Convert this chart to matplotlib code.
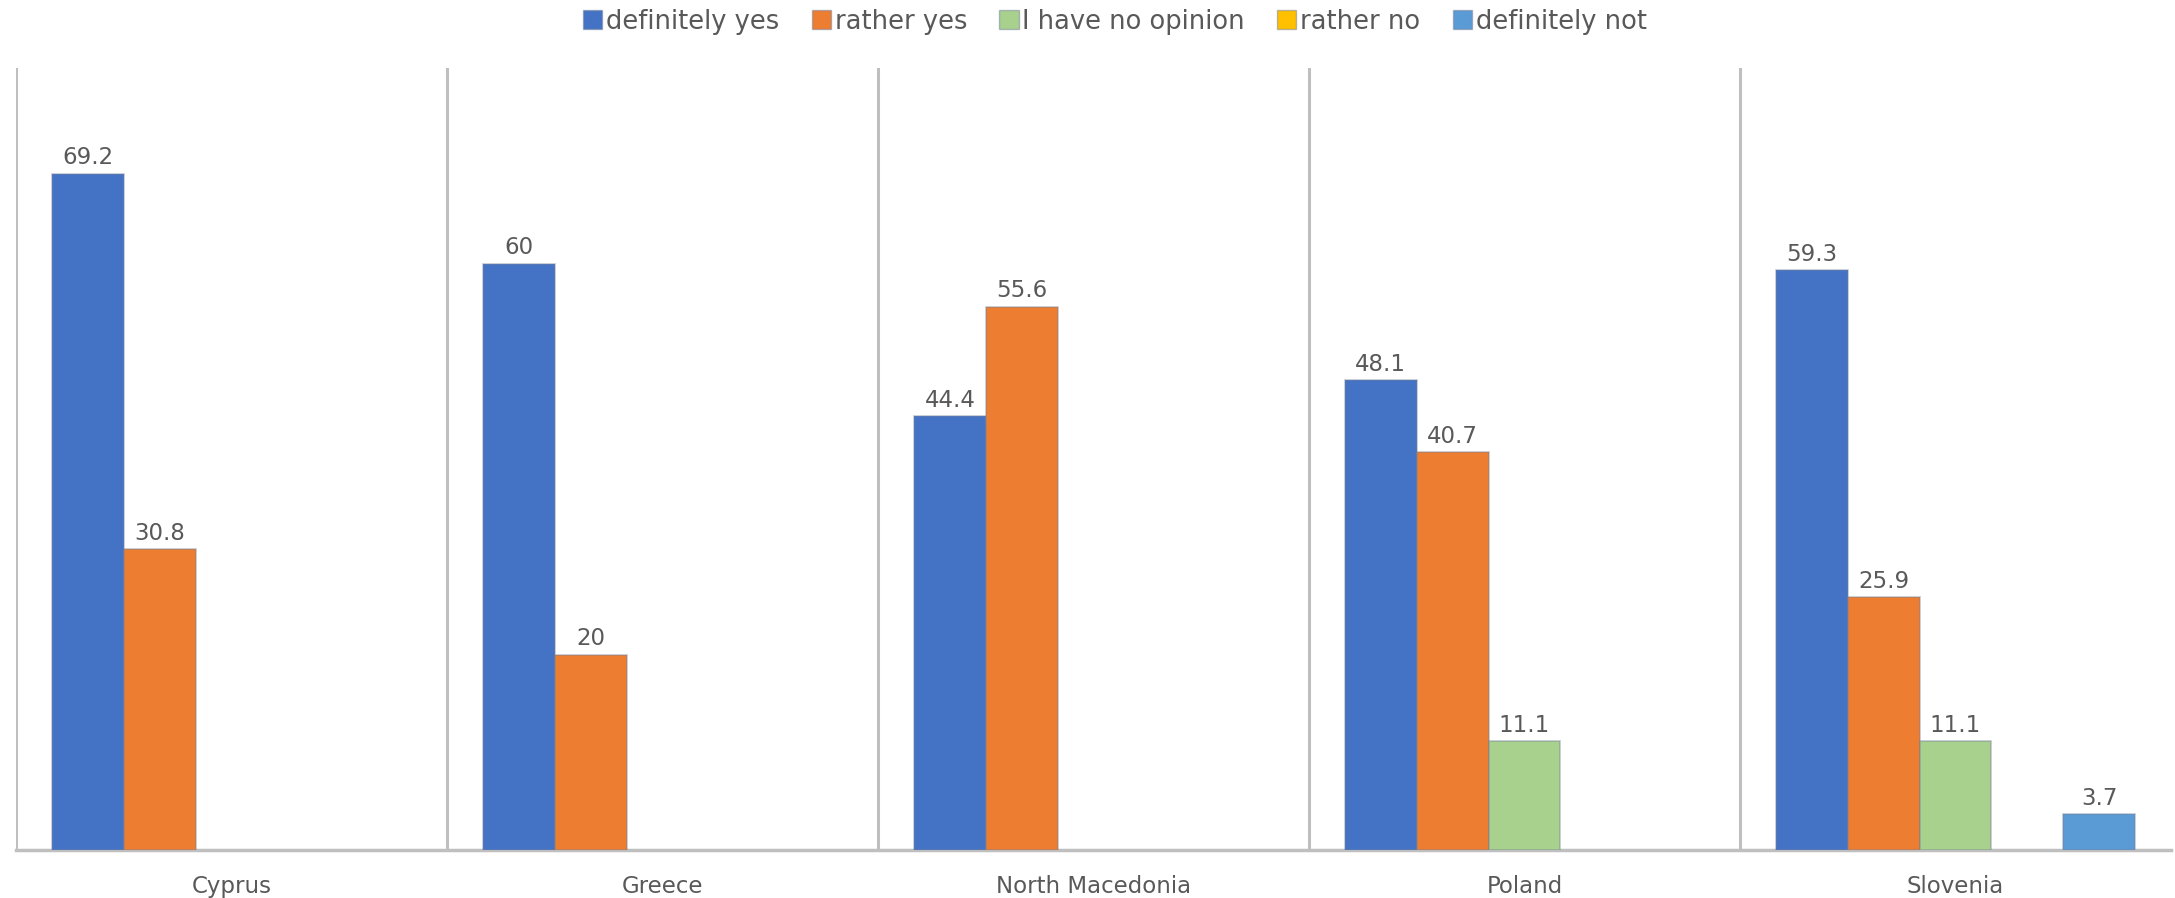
import matplotlib
matplotlib.use("Agg")
import matplotlib.pyplot as plt
import numpy as np

countries = ["Cyprus", "Greece", "North Macedonia", "Poland", "Slovenia"]
series_names = ["definitely yes", "rather yes", "I have no opinion", "rather no", "definitely not"]
definitely_yes = [69.2, 60, 44.4, 48.1, 59.3]
rather_yes = [30.8, 20, 55.6, 40.7, 25.9]
no_opinion = [0, 0, 0, 11.1, 11.1]
rather_no = [0, 0, 0, 0, 0]
definitely_not = [0, 0, 0, 0, 3.7]
series_values = [definitely_yes, rather_yes, no_opinion, rather_no, definitely_not]
colors = ["#4472C4", "#ED7D31", "#A9D18E", "#FFC000", "#5B9BD5"]

text_color = "#595959"
grid_color = "#BFBFBF"

fig = plt.figure(figsize=(21.75, 8.98), dpi=100)
ax = fig.add_axes([16 / 2175, 1 - 850 / 898, (2171 - 16) / 2175, (850 - 68) / 898])

x = np.arange(len(countries))
n = len(series_names)
w = 1 / (n + 1)
handles = []
for i, (name, vals, c) in enumerate(zip(series_names, series_values, colors)):
    offs = (i - (n - 1) / 2) * w
    vals = np.array(vals, dtype=float)
    mask = vals > 0
    bars = ax.bar(x[mask] + offs, vals[mask], width=w, color=c,
                  edgecolor=(0.45, 0.5, 0.6, 0.45), linewidth=1.2, zorder=3)
    for b, v in zip(bars, vals[mask]):
        ax.annotate(f"{v:g}", (b.get_x() + b.get_width() / 2, v),
                    xytext=(0, 3), textcoords="offset points",
                    ha="center", va="bottom", fontsize=16.5, color=text_color)
    handles.append(plt.Rectangle((0, 0), 1, 1, color=c, ec=(0.45, 0.5, 0.6, 0.5), lw=1))

ax.set_xlim(-0.5, len(countries) - 0.5)
ax.set_ylim(0, 80)
for b in np.arange(-0.5, len(countries) - 0.5, 1.0):
    ax.axvline(b, color=grid_color, linewidth=2.2, zorder=1)

for s in ["top", "right", "left"]:
    ax.spines[s].set_visible(False)
ax.spines["bottom"].set_color(grid_color)
ax.spines["bottom"].set_linewidth(2.5)
ax.set_yticks([])
ax.set_xticks(x)
ax.set_xticklabels(countries, fontsize=16.5, color=text_color)
ax.tick_params(axis="x", length=0, pad=18)

fig.legend(handles, series_names, loc="center", bbox_to_anchor=(0.5126, 0.976), ncol=5,
           frameon=False, fontsize=18.5, labelcolor=text_color,
           handlelength=0.75, handleheight=0.75, handletextpad=0.15, columnspacing=1.25)

fig.savefig("out.png", dpi=100, facecolor="white")
